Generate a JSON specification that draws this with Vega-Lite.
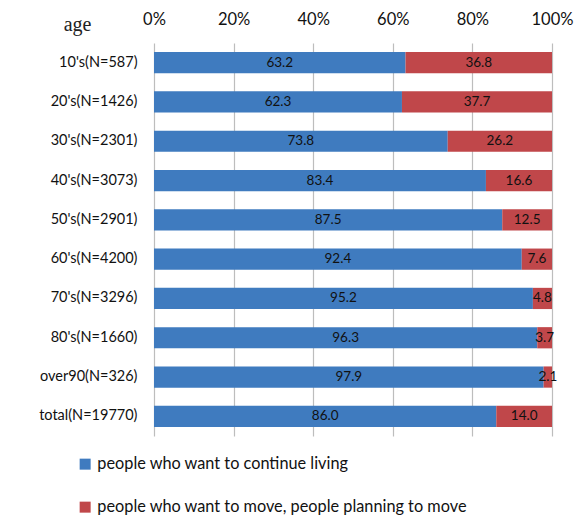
{
  "$schema": "https://vega.github.io/schema/vega-lite/v6.json",
  "width": 398,
  "height": 393,
  "autosize": {"type": "none"},
  "padding": {"left": 154, "top": 43, "right": 30, "bottom": 85},
  "background": "white",
  "config": {
    "view": {"stroke": null},
    "font": "Lato",
    "axis": {"labelFont": "Lato", "labelColor": "#111"}
  },
  "data": {
    "values": [
      {"age": "10's(N=587)", "answer": "people who want to continue living", "pct": 63.2},
      {"age": "10's(N=587)", "answer": "people who want to move, people planning to move", "pct": 36.8},
      {"age": "20's(N=1426)", "answer": "people who want to continue living", "pct": 62.3},
      {"age": "20's(N=1426)", "answer": "people who want to move, people planning to move", "pct": 37.7},
      {"age": "30's(N=2301)", "answer": "people who want to continue living", "pct": 73.8},
      {"age": "30's(N=2301)", "answer": "people who want to move, people planning to move", "pct": 26.2},
      {"age": "40's(N=3073)", "answer": "people who want to continue living", "pct": 83.4},
      {"age": "40's(N=3073)", "answer": "people who want to move, people planning to move", "pct": 16.6},
      {"age": "50's(N=2901)", "answer": "people who want to continue living", "pct": 87.5},
      {"age": "50's(N=2901)", "answer": "people who want to move, people planning to move", "pct": 12.5},
      {"age": "60's(N=4200)", "answer": "people who want to continue living", "pct": 92.4},
      {"age": "60's(N=4200)", "answer": "people who want to move, people planning to move", "pct": 7.6},
      {"age": "70's(N=3296)", "answer": "people who want to continue living", "pct": 95.2},
      {"age": "70's(N=3296)", "answer": "people who want to move, people planning to move", "pct": 4.8},
      {"age": "80's(N=1660)", "answer": "people who want to continue living", "pct": 96.3},
      {"age": "80's(N=1660)", "answer": "people who want to move, people planning to move", "pct": 3.7},
      {"age": "over90(N=326)", "answer": "people who want to continue living", "pct": 97.9},
      {"age": "over90(N=326)", "answer": "people who want to move, people planning to move", "pct": 2.1},
      {"age": "total(N=19770)", "answer": "people who want to continue living", "pct": 86.0},
      {"age": "total(N=19770)", "answer": "people who want to move, people planning to move", "pct": 14.0}
    ]
  },
  "encoding": {
    "y": {
      "field": "age",
      "type": "nominal",
      "sort": null,
      "scale": {"paddingInner": 0.46, "paddingOuter": 0.23},
      "axis": {
        "title": "age",
        "titleFont": "Liberation Serif",
        "titleFontSize": 20,
        "titleFontWeight": "normal",
        "titleColor": "#222",
        "titleAngle": 0,
        "titleAlign": "center",
        "titleBaseline": "alphabetic",
        "titleX": -77,
        "titleY": -13,
        "domain": false,
        "ticks": false,
        "labelFontSize": 14.5,
        "labelPadding": 17
      }
    },
    "order": {"field": "answer", "sort": "ascending"}
  },
  "layer": [
    {
      "mark": {"type": "bar"},
      "encoding": {
        "x": {
          "field": "pct",
          "type": "quantitative",
          "stack": "zero",
          "scale": {"domain": [0, 100]},
          "axis": {
            "orient": "top",
            "title": null,
            "values": [0, 20, 40, 60, 80, 100],
            "labelExpr": "datum.value + '%'",
            "labelFontSize": 16.5,
            "labelFlush": false,
            "labelBound": false,
            "domain": false,
            "ticks": false,
            "labelPadding": 16,
            "grid": true,
            "gridColor": "#bdbdbd",
            "gridWidth": 1.2
          }
        },
        "color": {
          "field": "answer",
          "type": "nominal",
          "scale": {"range": ["#3f7bbf", "#c0474a"]},
          "legend": {
            "title": null,
            "orient": "none",
            "legendX": -77,
            "legendY": 413,
            "direction": "vertical",
            "symbolType": "square",
            "symbolSize": 121,
            "symbolStrokeWidth": 0,
            "labelFont": "Lato",
            "labelFontSize": 16.3,
            "labelColor": "#111",
            "labelOffset": 4,
            "labelLimit": 0,
            "rowPadding": 26
          }
        }
      }
    },
    {
      "mark": {"type": "text", "fontSize": 13.5, "color": "#111", "baseline": "middle"},
      "encoding": {
        "x": {"field": "pct", "type": "quantitative", "stack": "zero", "bandPosition": 0.5},
        "text": {"field": "pct", "type": "quantitative", "format": ".1f"},
        "detail": {"field": "answer"}
      }
    }
  ]
}
